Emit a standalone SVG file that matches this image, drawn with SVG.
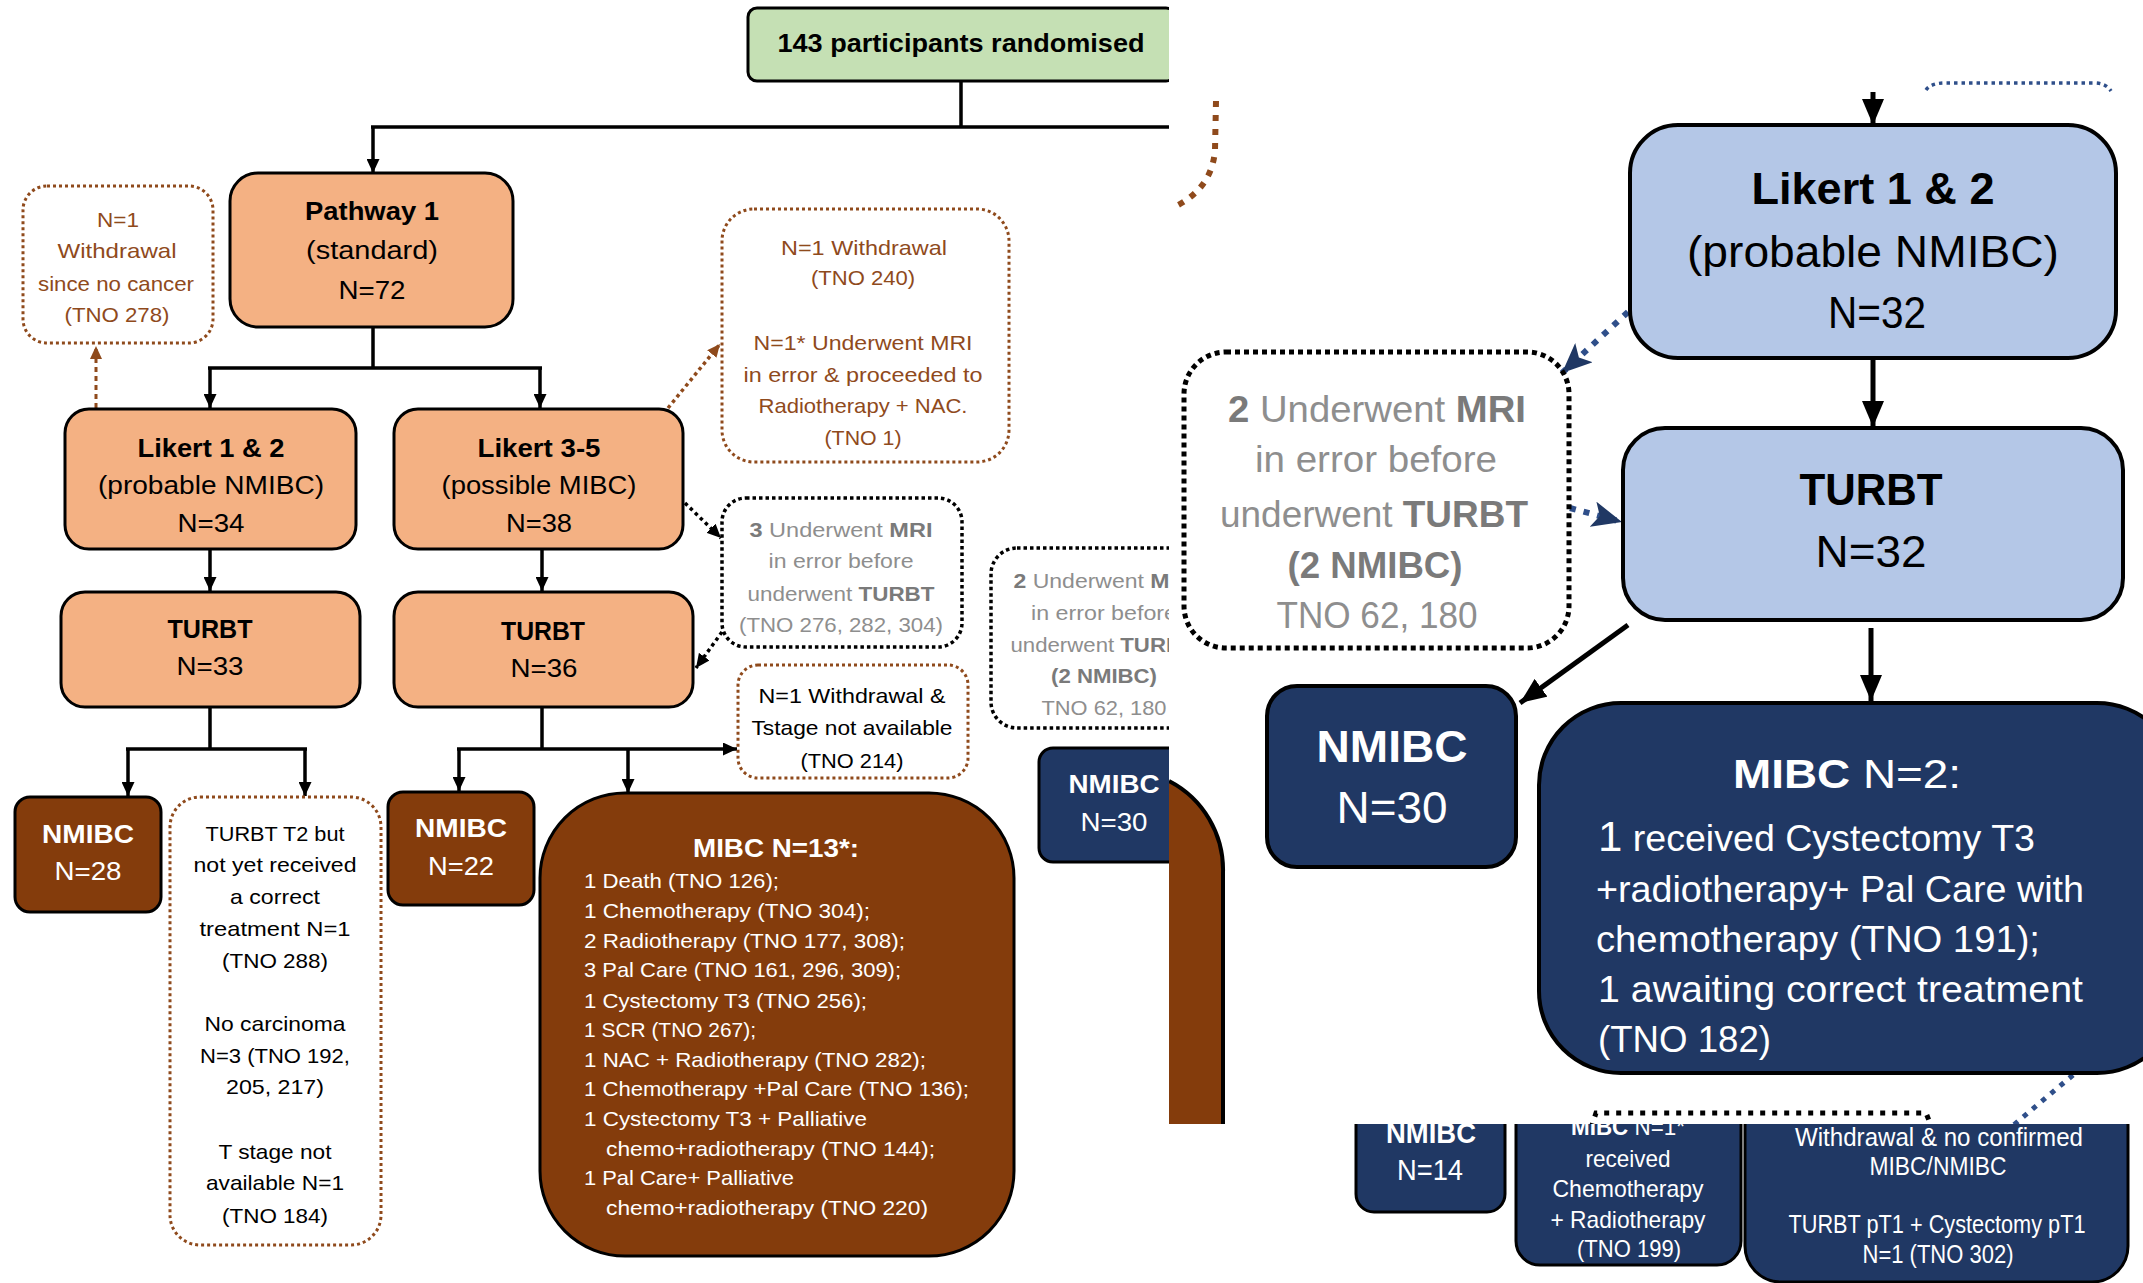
<svg xmlns="http://www.w3.org/2000/svg" width="2143" height="1283" viewBox="0 0 2143 1283">
<style>
text{font-family:"Liberation Sans",Arial,sans-serif;text-anchor:middle}
.b{font-weight:bold}
.w{fill:#ffffff}
.k{fill:#000000}
.brt{fill:#8f4a1c}
.g{fill:#8e8e8e}
.gb{fill:#7a7a7a;font-weight:bold}
.s{text-anchor:start}
.peach{fill:#f4b183;stroke:#000;stroke-width:3}
.brown{fill:#843c0c;stroke:#000;stroke-width:3}
.navyL{fill:#203864;stroke:#000;stroke-width:3}
.navy{fill:#203864;stroke:#000;stroke-width:4}
.blue{fill:#b4c7e7;stroke:#000;stroke-width:4}
.dotBr{fill:none;stroke:#8f4a1c;stroke-width:3;stroke-dasharray:3 3}
.dotBk{fill:none;stroke:#000;stroke-width:3.5;stroke-dasharray:3.5 3}
.dotBkL{fill:none;stroke:#000;stroke-width:5;stroke-dasharray:5 4}
.ln{fill:none;stroke:#000;stroke-width:3.5}
.lnB{fill:none;stroke:#000;stroke-width:5}
</style>
<defs>
<marker id="ah" markerUnits="userSpaceOnUse" viewBox="0 0 14 13" refX="14" refY="6.5" markerWidth="14" markerHeight="13" orient="auto"><path d="M0,0 L14,6.5 L0,13 z" fill="#000"/></marker>
<marker id="ahBr" markerUnits="userSpaceOnUse" viewBox="0 0 13 12" refX="13" refY="6" markerWidth="13" markerHeight="12" orient="auto"><path d="M0,0 L13,6 L0,12 z" fill="#8f4a1c"/></marker>
<marker id="ahBig" markerUnits="userSpaceOnUse" viewBox="0 0 26 22" refX="26" refY="11" markerWidth="26" markerHeight="22" orient="auto"><path d="M0,0 L26,11 L0,22 z" fill="#000"/></marker>
<marker id="ahNavy" markerUnits="userSpaceOnUse" viewBox="0 0 30 26" refX="30" refY="13" markerWidth="30" markerHeight="26" orient="auto"><path d="M0,0 L30,13 L0,26 L7,13 z" fill="#203864"/></marker>
<clipPath id="cL"><rect x="0" y="0" width="1169" height="1283"/></clipPath>
<clipPath id="cR"><rect x="1169" y="0" width="974" height="1124"/></clipPath>
<clipPath id="cS"><rect x="1169" y="1124" width="974" height="159"/></clipPath>
</defs>

<!-- ===== LEFT PANEL ===== -->
<g clip-path="url(#cL)">
<g id="connectors-left">
<path class="ln" d="M961,81 V127 M371,127 H1169"/>
<path class="ln" d="M373,127 V173" marker-end="url(#ah)"/>
<path class="ln" d="M373,327 V368 M208,368 H542"/>
<path class="ln" d="M210,368 V408" marker-end="url(#ah)"/>
<path class="ln" d="M540,368 V408" marker-end="url(#ah)"/>
<path class="ln" d="M210,549 V591" marker-end="url(#ah)"/>
<path class="ln" d="M542,549 V591" marker-end="url(#ah)"/>
<path class="ln" d="M210,707 V749 M126,749 H307"/>
<path class="ln" d="M128,749 V796" marker-end="url(#ah)"/>
<path class="ln" d="M305,749 V796" marker-end="url(#ah)"/>
<path class="ln" d="M542,707 V749"/>
<path class="ln" d="M457,749 H737" marker-end="url(#ah)"/>
<path class="ln" d="M459,749 V791" marker-end="url(#ah)"/>
<path class="ln" d="M628,749 V793" marker-end="url(#ah)"/>
<path fill="none" stroke="#8f4a1c" stroke-width="3" stroke-dasharray="5 4" d="M96,408 V346" marker-end="url(#ahBr)"/>
<path fill="none" stroke="#8f4a1c" stroke-width="3.5" stroke-dasharray="3.5 3.5" d="M668,408 L720,344" marker-end="url(#ahBr)"/>
<path fill="none" stroke="#000" stroke-width="3.5" stroke-dasharray="3.5 3.5" d="M685,503 L721,538" marker-end="url(#ah)"/>
<path fill="none" stroke="#000" stroke-width="3.5" stroke-dasharray="3.5 3.5" d="M722,632 L696,668" marker-end="url(#ah)"/>
</g>

<g id="n-randomised">
<rect x="748" y="8" width="427" height="73" rx="9" fill="#c5e0b4" stroke="#000" stroke-width="3"/>
<text class="b" x="961" y="52" font-size="26" textLength="367" lengthAdjust="spacingAndGlyphs">143 participants randomised</text>
</g>

<g id="n-pathway1">
<rect class="peach" x="230" y="173" width="283" height="154" rx="28"/>
<text class="b" x="372" y="220" font-size="26" textLength="134" lengthAdjust="spacingAndGlyphs">Pathway 1</text>
<text x="372" y="259" font-size="26" textLength="132" lengthAdjust="spacingAndGlyphs">(standard)</text>
<text x="372" y="299" font-size="26" textLength="67" lengthAdjust="spacingAndGlyphs">N=72</text>
</g>

<g id="n-withdrawal-278">
<rect class="dotBr" x="23" y="186" width="190" height="157" rx="24"/>
<text class="brt" x="118" y="227" font-size="21" textLength="42" lengthAdjust="spacingAndGlyphs">N=1</text>
<text class="brt" x="117" y="258" font-size="21" textLength="119" lengthAdjust="spacingAndGlyphs">Withdrawal</text>
<text class="brt" x="116" y="291" font-size="21" textLength="156" lengthAdjust="spacingAndGlyphs">since no cancer</text>
<text class="brt" x="117" y="322" font-size="21" textLength="105" lengthAdjust="spacingAndGlyphs">(TNO 278)</text>
</g>

<g id="n-withdrawal-240">
<rect class="dotBr" x="722" y="209" width="287" height="253" rx="32"/>
<text class="brt" x="864" y="255" font-size="21" textLength="166" lengthAdjust="spacingAndGlyphs">N=1 Withdrawal</text>
<text class="brt" x="863" y="285" font-size="21" textLength="104" lengthAdjust="spacingAndGlyphs">(TNO 240)</text>
<text class="brt" x="863" y="350" font-size="21" textLength="219" lengthAdjust="spacingAndGlyphs">N=1* Underwent MRI</text>
<text class="brt" x="863" y="382" font-size="21" textLength="239" lengthAdjust="spacingAndGlyphs">in error &amp; proceeded to</text>
<text class="brt" x="863" y="413" font-size="21" textLength="209" lengthAdjust="spacingAndGlyphs">Radiotherapy + NAC.</text>
<text class="brt" x="863" y="445" font-size="21" textLength="77" lengthAdjust="spacingAndGlyphs">(TNO 1)</text>
</g>

<g id="n-likert12-p1">
<rect class="peach" x="65" y="409" width="291" height="140" rx="24"/>
<text class="b" x="211" y="457" font-size="26" textLength="147" lengthAdjust="spacingAndGlyphs">Likert 1 &amp; 2</text>
<text x="211" y="494" font-size="26" textLength="226" lengthAdjust="spacingAndGlyphs">(probable NMIBC)</text>
<text x="211" y="532" font-size="26" textLength="67" lengthAdjust="spacingAndGlyphs">N=34</text>
</g>

<g id="n-likert35-p1">
<rect class="peach" x="394" y="409" width="289" height="140" rx="24"/>
<text class="b" x="539" y="457" font-size="26" textLength="123" lengthAdjust="spacingAndGlyphs">Likert 3-5</text>
<text x="539" y="494" font-size="26" textLength="195" lengthAdjust="spacingAndGlyphs">(possible MIBC)</text>
<text x="539" y="532" font-size="26" textLength="66" lengthAdjust="spacingAndGlyphs">N=38</text>
</g>

<g id="n-mri3">
<rect class="dotBk" x="722" y="498" width="240" height="149" rx="24"/>
<text class="g" x="841" y="537" font-size="21" textLength="183" lengthAdjust="spacingAndGlyphs"><tspan class="gb">3</tspan> Underwent <tspan class="gb">MRI</tspan></text>
<text class="g" x="841" y="568" font-size="21" textLength="145" lengthAdjust="spacingAndGlyphs">in error before</text>
<text class="g" x="841" y="601" font-size="21" textLength="187" lengthAdjust="spacingAndGlyphs">underwent <tspan class="gb">TURBT</tspan></text>
<text class="g" x="841" y="632" font-size="21" textLength="204" lengthAdjust="spacingAndGlyphs">(TNO 276, 282, 304)</text>
</g>

<g id="n-turbt-p1a">
<rect class="peach" x="61" y="592" width="299" height="115" rx="24"/>
<text class="b" x="210" y="638" font-size="26" textLength="85" lengthAdjust="spacingAndGlyphs">TURBT</text>
<text x="210" y="675" font-size="26" textLength="67" lengthAdjust="spacingAndGlyphs">N=33</text>
</g>

<g id="n-turbt-p1b">
<rect class="peach" x="394" y="592" width="299" height="115" rx="24"/>
<text class="b" x="543" y="640" font-size="26" textLength="84" lengthAdjust="spacingAndGlyphs">TURBT</text>
<text x="544" y="677" font-size="26" textLength="67" lengthAdjust="spacingAndGlyphs">N=36</text>
</g>

<g id="n-withdrawal-214">
<rect class="dotBr" x="738" y="665" width="230" height="113" rx="20"/>
<text class="k" x="852" y="703" font-size="21" textLength="187" lengthAdjust="spacingAndGlyphs">N=1 Withdrawal &amp;</text>
<text class="k" x="852" y="735" font-size="21" textLength="201" lengthAdjust="spacingAndGlyphs">Tstage not available</text>
<text class="k" x="852" y="768" font-size="21" textLength="103" lengthAdjust="spacingAndGlyphs">(TNO 214)</text>
</g>

<g id="n-mri2-small">
<rect class="dotBk" x="991" y="548" width="232" height="180" rx="26"/>
<text class="g" x="1103" y="588" font-size="21" textLength="179" lengthAdjust="spacingAndGlyphs"><tspan class="gb">2</tspan> Underwent <tspan class="gb">MRI</tspan></text>
<text class="g" x="1104" y="620" font-size="21" textLength="146" lengthAdjust="spacingAndGlyphs">in error before</text>
<text class="g" x="1103" y="652" font-size="21" textLength="185" lengthAdjust="spacingAndGlyphs">underwent <tspan class="gb">TURBT</tspan></text>
<text class="gb" x="1104" y="683" font-size="21" textLength="106" lengthAdjust="spacingAndGlyphs">(2 NMIBC)</text>
<text class="g" x="1104" y="715" font-size="21" textLength="125" lengthAdjust="spacingAndGlyphs">TNO 62, 180</text>
</g>

<g id="n-nmibc30-small">
<rect class="navyL" x="1039" y="748" width="150" height="114" rx="14"/>
<text class="w b" x="1114" y="793" font-size="26" textLength="91" lengthAdjust="spacingAndGlyphs">NMIBC</text>
<text class="w" x="1114" y="831" font-size="26" textLength="67" lengthAdjust="spacingAndGlyphs">N=30</text>
</g>

<g id="n-nmibc28">
<rect class="brown" x="15" y="797" width="146" height="115" rx="15"/>
<text class="w b" x="88" y="843" font-size="26" textLength="92" lengthAdjust="spacingAndGlyphs">NMIBC</text>
<text class="w" x="88" y="880" font-size="26" textLength="67" lengthAdjust="spacingAndGlyphs">N=28</text>
</g>

<g id="n-turbt-t2">
<rect class="dotBr" x="170" y="797" width="211" height="448" rx="30"/>
<text class="k" x="275" y="841" font-size="21" textLength="139" lengthAdjust="spacingAndGlyphs">TURBT T2 but</text>
<text class="k" x="275" y="872" font-size="21" textLength="163" lengthAdjust="spacingAndGlyphs">not yet received</text>
<text class="k" x="275" y="904" font-size="21" textLength="90" lengthAdjust="spacingAndGlyphs">a correct</text>
<text class="k" x="275" y="936" font-size="21" textLength="151" lengthAdjust="spacingAndGlyphs">treatment N=1</text>
<text class="k" x="275" y="968" font-size="21" textLength="106" lengthAdjust="spacingAndGlyphs">(TNO 288)</text>
<text class="k" x="275" y="1031" font-size="21" textLength="141" lengthAdjust="spacingAndGlyphs">No carcinoma</text>
<text class="k" x="275" y="1063" font-size="21" textLength="150" lengthAdjust="spacingAndGlyphs">N=3 (TNO 192,</text>
<text class="k" x="275" y="1094" font-size="21" textLength="98" lengthAdjust="spacingAndGlyphs">205, 217)</text>
<text class="k" x="275" y="1159" font-size="21" textLength="113" lengthAdjust="spacingAndGlyphs">T stage not</text>
<text class="k" x="275" y="1190" font-size="21" textLength="138" lengthAdjust="spacingAndGlyphs">available N=1</text>
<text class="k" x="275" y="1223" font-size="21" textLength="106" lengthAdjust="spacingAndGlyphs">(TNO 184)</text>
</g>

<g id="n-nmibc22">
<rect class="brown" x="388" y="792" width="146" height="113" rx="15"/>
<text class="w b" x="461" y="837" font-size="26" textLength="92" lengthAdjust="spacingAndGlyphs">NMIBC</text>
<text class="w" x="461" y="875" font-size="26" textLength="66" lengthAdjust="spacingAndGlyphs">N=22</text>
</g>

<g id="n-mibc13">
<rect class="brown" x="540" y="793" width="474" height="463" rx="85"/>
<text class="w b" x="776" y="857" font-size="25" textLength="166" lengthAdjust="spacingAndGlyphs">MIBC N=13*:</text>
<g class="w" font-size="21">
<text class="w s" x="584" y="888" textLength="195" lengthAdjust="spacingAndGlyphs">1 Death (TNO 126);</text>
<text class="w s" x="584" y="918" textLength="286" lengthAdjust="spacingAndGlyphs">1 Chemotherapy (TNO 304);</text>
<text class="w s" x="584" y="948" textLength="321" lengthAdjust="spacingAndGlyphs">2 Radiotherapy (TNO 177, 308);</text>
<text class="w s" x="584" y="977" textLength="317" lengthAdjust="spacingAndGlyphs">3 Pal Care (TNO 161, 296, 309);</text>
<text class="w s" x="584" y="1008" textLength="283" lengthAdjust="spacingAndGlyphs">1 Cystectomy T3 (TNO 256);</text>
<text class="w s" x="584" y="1037" textLength="172" lengthAdjust="spacingAndGlyphs">1 SCR (TNO 267);</text>
<text class="w s" x="584" y="1067" textLength="342" lengthAdjust="spacingAndGlyphs">1  NAC + Radiotherapy (TNO 282);</text>
<text class="w s" x="584" y="1096" textLength="385" lengthAdjust="spacingAndGlyphs">1 Chemotherapy +Pal Care (TNO 136);</text>
<text class="w s" x="584" y="1126" textLength="283" lengthAdjust="spacingAndGlyphs">1 Cystectomy T3 + Palliative</text>
<text class="w s" x="606" y="1156" textLength="329" lengthAdjust="spacingAndGlyphs">chemo+radiotherapy (TNO 144);</text>
<text class="w s" x="584" y="1185" textLength="210" lengthAdjust="spacingAndGlyphs">1 Pal Care+ Palliative</text>
<text class="w s" x="606" y="1215" textLength="322" lengthAdjust="spacingAndGlyphs">chemo+radiotherapy (TNO 220)</text>
</g>
</g>
</g>

<!-- ===== RIGHT PANEL (top) ===== -->
<g clip-path="url(#cR)">
<g id="n-mibc-brown-partial">
<path d="M1169,1124 L1169,781 A100,100 0 0 1 1223,873 L1223,1124 Z" fill="#843c0c"/>
<path d="M1169,781 A100,100 0 0 1 1223,873 L1223,1124" fill="none" stroke="#000" stroke-width="4"/>
</g>

<g id="connectors-right">
<path fill="none" stroke="#8f4a1c" stroke-width="6" stroke-dasharray="6 8" d="M1216,101 L1215,150 Q1212,190 1172,208"/>
<path fill="none" stroke="#2f4f8a" stroke-width="3.5" stroke-dasharray="3.5 4" d="M1926,90 Q1931,83 1945,83 L2094,83 Q2106,83 2111,91"/>
<path class="lnB" d="M1873,92 V125" marker-end="url(#ahBig)"/>
<path class="lnB" d="M1873,360 V427" marker-end="url(#ahBig)"/>
<path class="lnB" d="M1871,628 V701" marker-end="url(#ahBig)"/>
<path class="lnB" d="M1628,625 L1520,703" marker-end="url(#ahBig)"/>
<path fill="none" stroke="#2f4f8a" stroke-width="6" stroke-dasharray="6 8" d="M1628,312 L1562,373" marker-end="url(#ahNavy)"/>
<path fill="none" stroke="#2f4f8a" stroke-width="6" stroke-dasharray="6 8" d="M1570,508 L1622,522" marker-end="url(#ahNavy)"/>
<path fill="none" stroke="#2f4f8a" stroke-width="5" stroke-dasharray="5 7" d="M2073,1075 L2010,1128"/>
<path fill="none" stroke="#000" stroke-width="5" stroke-dasharray="5 7" d="M1591,1128 L1596,1113 L1926,1113 L1932,1128"/>
</g>

<g id="n-likert12-p2">
<rect class="blue" x="1630" y="125" width="486" height="233" rx="48"/>
<text class="b" x="1873" y="204" font-size="44" textLength="243" lengthAdjust="spacingAndGlyphs">Likert 1 &amp; 2</text>
<text x="1873" y="267" font-size="44" textLength="372" lengthAdjust="spacingAndGlyphs">(probable NMIBC)</text>
<text x="1877" y="328" font-size="44" textLength="98" lengthAdjust="spacingAndGlyphs">N=32</text>
</g>

<g id="n-mri2">
<rect class="dotBkL" x="1184" y="352" width="385" height="296" rx="42"/>
<text class="g" x="1377" y="422" font-size="36" textLength="298" lengthAdjust="spacingAndGlyphs"><tspan class="gb">2</tspan> Underwent <tspan class="gb">MRI</tspan></text>
<text class="g" x="1376" y="472" font-size="36" textLength="242" lengthAdjust="spacingAndGlyphs">in error before</text>
<text class="g" x="1374" y="527" font-size="36" textLength="308" lengthAdjust="spacingAndGlyphs">underwent <tspan class="gb">TURBT</tspan></text>
<text class="gb" x="1375" y="578" font-size="36" textLength="175" lengthAdjust="spacingAndGlyphs">(2 NMIBC)</text>
<text class="g" x="1377" y="628" font-size="36" textLength="201" lengthAdjust="spacingAndGlyphs">TNO 62, 180</text>
</g>

<g id="n-turbt-p2">
<rect class="blue" x="1623" y="428" width="500" height="192" rx="42"/>
<text class="b" x="1871" y="505" font-size="44" textLength="143" lengthAdjust="spacingAndGlyphs">TURBT</text>
<text x="1871" y="567" font-size="44" textLength="111" lengthAdjust="spacingAndGlyphs">N=32</text>
</g>

<g id="n-nmibc30">
<rect class="navy" x="1267" y="686" width="249" height="181" rx="30"/>
<text class="w b" x="1392" y="762" font-size="44" textLength="151" lengthAdjust="spacingAndGlyphs">NMIBC</text>
<text class="w" x="1392" y="823" font-size="44" textLength="111" lengthAdjust="spacingAndGlyphs">N=30</text>
</g>

<g id="n-mibc2">
<rect class="navy" x="1539" y="703" width="640" height="370" rx="82"/>
<text class="w" x="1847" y="788" font-size="40" textLength="228" lengthAdjust="spacingAndGlyphs"><tspan class="b">MIBC</tspan> N=2:</text>
<text class="w s" x="1598" y="851" font-size="36" textLength="437" lengthAdjust="spacingAndGlyphs"><tspan font-size="42">1</tspan> received Cystectomy T3</text>
<text class="w s" x="1596" y="902" font-size="36" textLength="488" lengthAdjust="spacingAndGlyphs">+radiotherapy+ Pal Care with</text>
<text class="w s" x="1596" y="952" font-size="36" textLength="444" lengthAdjust="spacingAndGlyphs">chemotherapy (TNO 191);</text>
<text class="w s" x="1598" y="1002" font-size="36" textLength="485" lengthAdjust="spacingAndGlyphs">1 awaiting correct treatment</text>
<text class="w s" x="1598" y="1052" font-size="36" textLength="173" lengthAdjust="spacingAndGlyphs">(TNO 182)</text>
</g>
</g>

<!-- ===== RIGHT PANEL (bottom strip) ===== -->
<g clip-path="url(#cS)">
<g id="n-nmibc14">
<rect class="navyL" x="1356" y="1090" width="149" height="122" rx="18"/>
<text class="w b" x="1431" y="1143" font-size="30" textLength="90" lengthAdjust="spacingAndGlyphs">NMIBC</text>
<text class="w" x="1430" y="1180" font-size="30" textLength="66" lengthAdjust="spacingAndGlyphs">N=14</text>
</g>
<g id="n-mibc1">
<rect class="navyL" x="1516" y="1090" width="225" height="175" rx="24"/>
<text class="w" x="1628" y="1135" font-size="23" textLength="114" lengthAdjust="spacingAndGlyphs"><tspan class="b">MIBC</tspan> N=1*</text>
<text class="w" x="1628" y="1167" font-size="24" textLength="85" lengthAdjust="spacingAndGlyphs">received</text>
<text class="w" x="1628" y="1197" font-size="24" textLength="151" lengthAdjust="spacingAndGlyphs">Chemotherapy</text>
<text class="w" x="1628" y="1228" font-size="24" textLength="155" lengthAdjust="spacingAndGlyphs">+ Radiotherapy</text>
<text class="w" x="1629" y="1257" font-size="24" textLength="104" lengthAdjust="spacingAndGlyphs">(TNO 199)</text>
</g>
<g id="n-withdrawal-302">
<rect class="navyL" x="1745" y="1090" width="383" height="192" rx="36"/>
<text class="w" x="1939" y="1146" font-size="25" textLength="288" lengthAdjust="spacingAndGlyphs">Withdrawal  &amp; no confirmed</text>
<text class="w" x="1938" y="1175" font-size="25" textLength="137" lengthAdjust="spacingAndGlyphs">MIBC/NMIBC</text>
<text class="w" x="1937" y="1233" font-size="25" textLength="297" lengthAdjust="spacingAndGlyphs">TURBT pT1 + Cystectomy pT1</text>
<text class="w" x="1938" y="1263" font-size="25" textLength="151" lengthAdjust="spacingAndGlyphs">N=1 (TNO 302)</text>
</g>
</g>
</svg>
